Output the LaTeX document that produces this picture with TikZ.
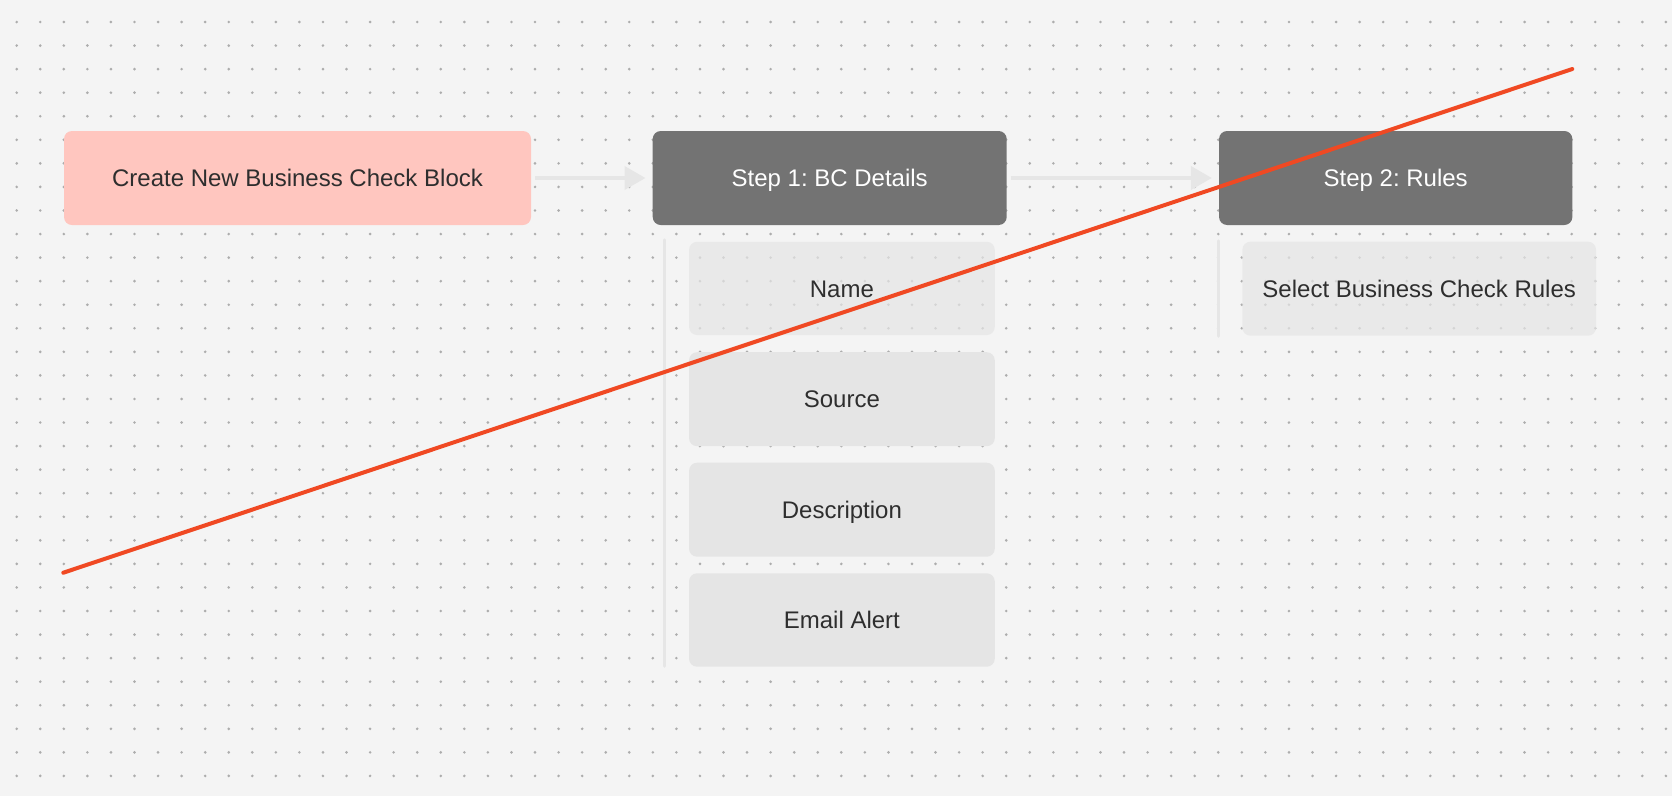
\documentclass[tikz,border=0pt]{standalone}
\usepackage{fontspec}
\setmainfont{Liberation Sans}
\usetikzlibrary{arrows.meta}
\definecolor{bgc}{HTML}{F4F4F4}
\definecolor{dotc}{HTML}{ADADAD}
\definecolor{pinkc}{HTML}{FFC6BF}
\definecolor{stepc}{HTML}{737373}
\definecolor{itemc}{HTML}{E5E5E5}
\definecolor{barc}{HTML}{E6E6E6}
\definecolor{txtc}{HTML}{2E2E2E}
\definecolor{redc}{HTML}{F04923}
\frenchspacing
\begin{document}
\begin{tikzpicture}[x=1pt,y=-1pt,
  font=\fontsize{24}{29}\selectfont\frenchspacing,
  box/.style={rectangle, rounded corners=8pt, minimum height=94pt, inner sep=0pt,
    text=txtc, text height=17.3pt, text depth=0pt},
  createbox/.style={box, fill=pinkc, minimum width=467pt},
  stepbox/.style={box, fill=stepc, text=white, minimum width=354pt},
  itembox/.style={box, fill=itemc, minimum width=305.7pt},
  faintbox/.style={box, fill=itemc, fill opacity=0.7, text opacity=1},
  flow/.style={draw=barc, line width=4pt, -{Triangle[length=21pt,width=23pt]}},
  bar/.style={draw=barc, line width=3.5pt, line cap=round},
  strike/.style={draw=redc, line width=4pt, line cap=round}]
\useasboundingbox (0,0) rectangle (1672,796);
\fill[bgc] (0,0) rectangle (1672,796);
\begin{scope}
\clip (0,0) rectangle (1672,796);
\foreach \i in {0,...,70}{
  \foreach \j in {-1,...,33}{
    \fill[dotc] ({16.7+23.56*\i},{22+23.56*\j}) circle[radius=1.45pt];
  }
}
\end{scope}

\node[createbox] (create) at (297.5,178) {Create New Business Check Block};
\node[stepbox] (step1) at (829.7,178) {Step 1: BC Details};
\node[stepbox, minimum width=353.3pt] (step2) at (1395.7,178) {Step 2: Rules};

\node[faintbox, minimum width=305.7pt, minimum height=93.3pt] (name) at (841.9,288.4) {Name};
\node[itembox] (source) at (841.9,399.2) {Source};
\node[itembox] (desc) at (841.9,509.7) {Description};
\node[itembox, minimum height=93.4pt] (email) at (841.9,620) {Email Alert};
\node[faintbox, minimum width=353.7pt] (select) at (1419.2,288.7) {Select Business Check Rules};

\coordinate (b1top) at (664.3,240);
\coordinate (b1bot) at (664.3,666);
\coordinate (b2top) at (1218.7,241);
\coordinate (b2bot) at (1218.7,336);
\draw[bar] (b1top) -- (b1bot);
\draw[bar] (b2top) -- (b2bot);

\draw[flow] ([xshift=4pt]create.east) -- ([xshift=-7pt]step1.west);
\draw[flow] ([xshift=4pt]step1.east) -- ([xshift=-7pt]step2.west);

\coordinate (rs) at (63.3,572.7);
\coordinate (re) at (1572.3,69);
\draw[strike] (rs) -- (re);
\end{tikzpicture}
\end{document}
